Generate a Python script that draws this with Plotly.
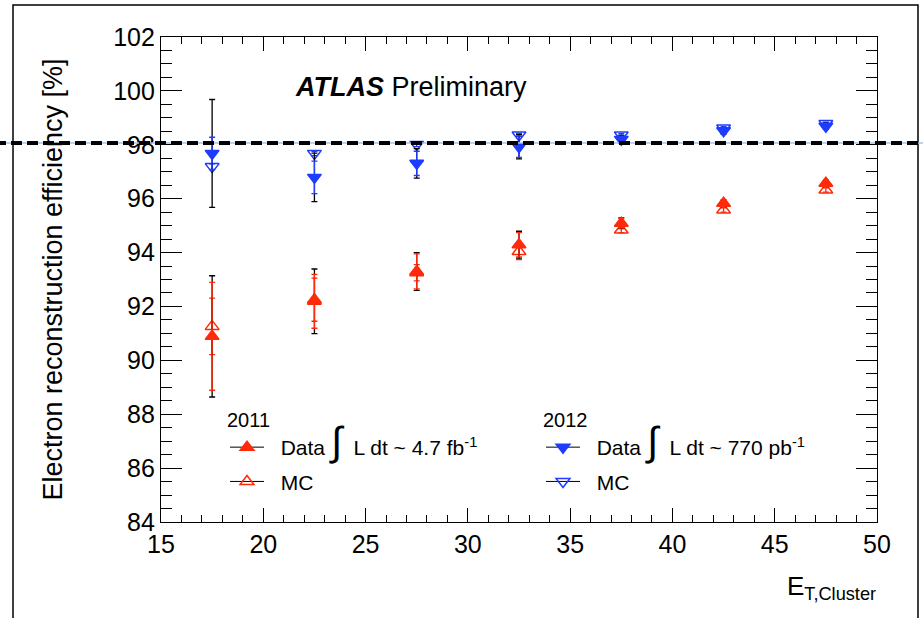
import plotly.graph_objects as go

# ---------------- data ----------------
et_bins = [17.5, 22.5, 27.5, 32.5, 37.5, 42.5, 47.5]

eff_2011_data = [90.89, 92.19, 93.30, 94.29, 95.09, 95.83, 96.57]
eff_2011_data_stat = [2.00, 1.00, 0.65, 0.45, 0.18, 0.10, 0.10]
eff_2011_data_tot = [2.25, 1.20, 0.70, 0.50, 0.20, 0.12, 0.12]
eff_2011_mc = [91.26, 92.25, 93.25, 94.04, 94.84, 95.58, 96.32]
eff_2011_mc_err = [1.05, 0.80, 0.30, 0.30, 0.10, 0.08, 0.08]

eff_2012_data = [97.68, 96.79, 97.31, 97.93, 98.20, 98.52, 98.69]
eff_2012_data_stat = [0.60, 0.60, 0.45, 0.40, 0.12, 0.10, 0.10]
eff_2012_data_tot = [2.00, 0.90, 0.55, 0.45, 0.15, 0.12, 0.12]
eff_2012_mc = [97.19, 97.68, 98.01, 98.36, 98.36, 98.62, 98.79]
eff_2012_mc_err = [0.10, 0.08, 0.08, 0.06, 0.05, 0.05, 0.05]

reference_level = 98.07

y_ticks = [84, 86, 88, 90, 92, 94, 96, 98, 100, 102]
x_ticks = [15, 20, 25, 30, 35, 40, 45, 50]

lumi_2011 = "L dt ~ 4.7 fb<sup>-1</sup>"
lumi_2012 = "L dt ~ 770 pb<sup>-1</sup>"

# ---------------- style ----------------
RED = "#ff2a0a"
BLUE = "#1e3cff"
FONT = "Liberation Sans, Arial, Helvetica, sans-serif"

W, H = 923, 618
ML, MR, MT, MB = 161, 46, 37, 96
PW, PH = W - ML - MR, H - MT - MB


def px(xp):
    return (xp - ML) / PW


def py(yp):
    return (H - MB - yp) / PH


fig = go.Figure()


def add_series(y, err_tot, err_col, color, symbol):
    if err_tot is not None:
        fig.add_trace(go.Scatter(
            x=et_bins, y=y, mode="markers",
            marker=dict(size=1, color="rgba(0,0,0,0)"),
            error_y=dict(type="data", array=err_tot, color="black",
                         thickness=1.3, width=3),
            showlegend=False, hoverinfo="skip"))
    fig.add_trace(go.Scatter(
        x=et_bins, y=y, mode="markers",
        marker=dict(size=12, symbol=symbol, color=color,
                    line=dict(color=color, width=1.5)),
        error_y=dict(type="data", array=err_col, color=color,
                     thickness=1.3, width=3),
        showlegend=False))


add_series(eff_2011_mc, None, eff_2011_mc_err, RED, "triangle-up-open")
add_series(eff_2011_data, eff_2011_data_tot, eff_2011_data_stat, RED, "triangle-up")
add_series(eff_2012_mc, None, eff_2012_mc_err, BLUE, "triangle-down-open")
add_series(eff_2012_data, eff_2012_data_tot, eff_2012_data_stat, BLUE, "triangle-down")

INTEGRAL = "<span style='font-size:40px'>∫</span>"
PAD = "&nbsp;&nbsp;"


def legend_entry(name, color, symbol, legend, group):
    fig.add_trace(go.Scatter(
        x=[None], y=[None], mode="lines+markers", name=PAD + name,
        line=dict(color="black", width=1),
        marker=dict(size=12, symbol=symbol, color=color,
                    line=dict(color=color, width=1.5)),
        legend=legend, legendgroup=group, showlegend=True))


legend_entry("Data&nbsp;" + INTEGRAL + "&nbsp;&nbsp;" + lumi_2011, RED, "triangle-up", "legend", "d11")
legend_entry("MC", RED, "triangle-up-open", "legend", "m11")
legend_entry("Data&nbsp;" + INTEGRAL + "&nbsp;&nbsp;" + lumi_2012, BLUE, "triangle-down", "legend2", "d12")
legend_entry("MC", BLUE, "triangle-down-open", "legend2", "m12")

shapes = []
# outer frame
shapes.append(dict(type="rect", xref="paper", yref="paper",
                   x0=px(13), x1=px(918), y0=py(640), y1=py(5),
                   line=dict(color="black", width=1.5), layer="below"))
# reference dashed line (full width)
shapes.append(dict(type="line", xref="paper", yref="y",
                   x0=px(-5), x1=px(930), y0=reference_level, y1=reference_level,
                   line=dict(color="#a8c4e0", width=1.5)))
shapes.append(dict(type="line", xref="paper", yref="y",
                   x0=px(-5), x1=px(930), y0=reference_level, y1=reference_level,
                   line=dict(color="black", width=4, dash="11px,5px")))

annotations = [
    dict(xref="paper", yref="paper", x=px(293), y=py(87),
         xanchor="left", yanchor="middle", showarrow=False,
         text="<b><i>ATLAS</i></b> Preliminary",
         font=dict(family=FONT, size=27, color="black")),
    dict(xref="paper", yref="paper", x=px(878), y=py(587),
         xanchor="right", yanchor="middle", showarrow=False,
         text="E<sub>T,Cluster</sub>",
         font=dict(family=FONT, size=26, color="black")),
]

axis_common = dict(showgrid=False, zeroline=False, showline=True, linecolor="black",
                   linewidth=1.3, mirror="ticks", ticks="inside", tickcolor="black",
                   tickwidth=1.3, tickfont=dict(family=FONT, size=25, color="black"))

legend_common = dict(bgcolor="rgba(0,0,0,0)", borderwidth=0, itemwidth=34,
                     font=dict(family=FONT, size=21, color="black"),
                     tracegroupgap=4, traceorder="grouped",
                     xanchor="left", yanchor="top", itemclick=False, itemdoubleclick=False)

fig.update_layout(
    width=W, height=H,
    margin=dict(l=ML, r=MR, t=MT, b=MB),
    paper_bgcolor="white", plot_bgcolor="white",
    showlegend=True,
    legend=dict(x=px(225), y=py(401),
                title=dict(text="2011", side="top",
                           font=dict(family=FONT, size=20, color="black")),
                **legend_common),
    legend2=dict(x=px(541), y=py(401),
                 title=dict(text="2012", side="top",
                            font=dict(family=FONT, size=20, color="black")),
                 **legend_common),
    xaxis=dict(range=[15, 50], tickvals=x_ticks, ticklen=14,
               minor=dict(dtick=1, ticks="inside", ticklen=7, tickcolor="black", tickwidth=1.3),
               **axis_common),
    yaxis=dict(range=[84, 102], tickvals=y_ticks, ticklen=21,
               title=dict(text="Electron reconstruction efficiency [%]", standoff=42,
                          font=dict(family=FONT, size=27, color="black")),
               minor=dict(dtick=0.5, ticks="inside", ticklen=11, tickcolor="black", tickwidth=1.3),
               **axis_common),
    shapes=shapes,
    annotations=annotations,
)

fig.write_html("out.html", config={"displayModeBar": False},
               post_script="document.body.style.margin='0px';")
